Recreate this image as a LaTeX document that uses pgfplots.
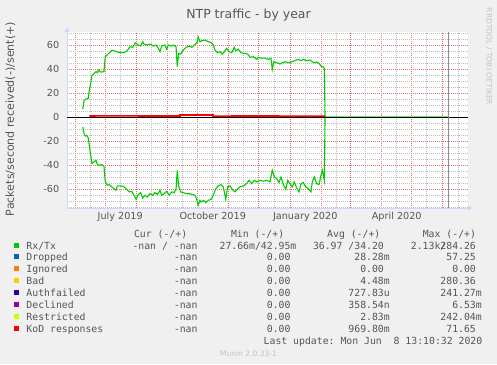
\documentclass[border=0pt]{standalone}
\usepackage{pgfplots}
\pgfplotsset{compat=1.18}
\usetikzlibrary{arrows.meta}
\usepackage{fontspec}
\setmainfont{DejaVu Sans}
\newfontfamily\monofont{DejaVu Sans Mono}
\definecolor{bgc}{HTML}{F0F0F0}
\definecolor{axc}{HTML}{CFD6F8}
\definecolor{fnt}{HTML}{555555}
\definecolor{mgr}{HTML}{E87070}
\definecolor{sgr}{HTML}{BEBEBE}
\definecolor{wm}{HTML}{C4C4C4}
\definecolor{nowc}{HTML}{8C8C8C}
\definecolor{cRx}{HTML}{00CC00}
\definecolor{cDr}{HTML}{0066B3}
\definecolor{cIg}{HTML}{FF8000}
\definecolor{cBa}{HTML}{FFCC00}
\definecolor{cAu}{HTML}{330099}
\definecolor{cDe}{HTML}{990099}
\definecolor{cRe}{HTML}{CCFF00}
\definecolor{cKo}{HTML}{FF0000}
\newcommand{\lf}{\fontsize{9.85}{11}\selectfont\monofont}
\newcommand{\ph}{\hphantom{0}}
\newcommand{\lrow}[7]{%
  \fill[#2] (14,#1+1.3) rectangle (19,#1+6.3);
  \node[anchor=base west,inner sep=0,text=fnt,font=\lf] at (26.3,#1) {#3};
  \node[anchor=base east,inner sep=0,text=fnt,font=\lf] at (197.7,#1) {#4};
  \node[anchor=base east,inner sep=0,text=fnt,font=\lf] at (296.6,#1) {#5};
  \node[anchor=base east,inner sep=0,text=fnt,font=\lf] at (390,#1) {#6};
  \node[anchor=base east,inner sep=0,text=fnt,font=\lf] at (482,#1) {#7};
}
\begin{document}
\begin{tikzpicture}[x=1bp,y=1bp]
\fill[bgc] (0,0) rectangle (497,364);
\useasboundingbox (0,0) rectangle (497,364);
\begin{axis}[
  at={(67bp,156bp)}, anchor=south west, scale only axis,
  width=401bp, height=176bp,
  xmin=-7.96, xmax=390.9, ymin=-75.6, ymax=71.1,
  axis background/.style={fill=white},
  axis x line=bottom, axis y line=left,
  axis line style={draw=axc, line width=1bp},
  x axis line style={-{Triangle[length=4.5bp,width=5bp]}, shorten >=-4.5bp},
  y axis line style={-{Triangle[length=4.5bp,width=5bp]}, shorten >=-4.5bp},
  major tick length=0pt, minor tick length=0pt,
  xtick={0,30,61,92,122,153,183,214,245,274,305,335,366},
  xticklabels={},
  minor xtick={15,45,76,107,137,168,198,229,260,289,320,350,381},
  extra x ticks={45,137,229,320},
  extra x tick labels={July 2019,October 2019,January 2020,April 2020},
  extra x tick style={grid=none},
  ytick={-60,-40,-20,0,20,40,60},
  yticklabels={-60,-40,-20,0,20,40,60},
  minor ytick={-75,-70,-65,-55,-50,-45,-35,-30,-25,-15,-10,-5,5,10,15,25,30,35,45,50,55,65,70},
  grid=both,
  major grid style={draw=mgr, line width=1bp, dash pattern=on 1bp off 1bp},
  minor grid style={draw=sgr, line width=1bp, dash pattern=on 1bp off 1bp},
  ticklabel style={font=\fontsize{9.72}{11}\selectfont, text=fnt},
  yticklabel style={anchor=east, inner sep=0pt, xshift=-7.5bp},
  xticklabel style={anchor=base, inner sep=0pt, yshift=-11.5bp},
]
% Rx/Tx sent (+)
\addplot[cRx, line width=1.1bp] table {
7.7 6.7
9.0 13.8
10.9 15.2
13.2 15.8
14.2 22.7
15.6 28.3
16.9 35.0
18.9 36.6
20.9 38.0
22.2 37.2
23.6 39.4
25.6 37.7
28.8 38.0
30.1 50.5
32.1 52.0
34.1 53.8
36.8 56.0
39.8 55.2
43.1 54.2
48.0 53.8
50.7 54.7
53.0 56.7
54.7 58.8
57.4 58.3
60.0 62.2
63.0 60.2
65.3 59.4
67.3 63.0
68.6 61.0
70.6 60.2
74.6 61.0
77.9 59.4
80.6 60.2
82.9 57.5
84.5 54.7
86.2 59.4
89.5 60.2
91.2 56.7
92.8 60.2
96.2 59.4
97.8 60.2
100.5 58.8
101.7 42.2
103.1 53.3
105.1 52.7
107.7 56.0
110.4 58.3
113.7 59.4
116.1 58.3
118.4 60.2
121.0 61.7
122.6 66.7
124.3 63.0
126.0 63.8
129.3 64.4
132.6 63.0
135.3 62.2
137.6 60.2
139.2 56.0
141.9 53.8
144.2 54.7
146.5 52.7
149.2 55.5
150.9 57.5
153.2 54.7
155.9 53.8
158.4 58.3
159.8 55.5
162.4 56.7
165.1 53.8
168.4 53.3
171.8 52.7
174.1 50.0
177.3 50.5
180.7 48.3
182.3 50.0
185.7 49.2
189.0 49.4
192.3 48.3
194.9 49.2
196.2 40.0
197.6 46.3
200.6 45.5
203.9 44.4
206.2 45.5
209.6 46.3
212.2 45.5
215.5 46.3
218.8 47.2
222.1 48.3
224.8 47.2
227.1 48.3
230.4 47.2
233.7 47.8
236.0 46.3
238.0 45.5
240.4 46.1
242.7 45.0
244.7 42.8
247.0 41.7
248.0 40.8
248.7 0
371.0 0
};
% Rx/Tx received (-)
\addplot[cRx, line width=1.1bp] table {
7.7 -8.1
9.0 -13.6
10.2 -15.6
11.6 -15.0
13.2 -17.2
14.2 -23.3
15.6 -31.7
16.9 -38.6
18.9 -37.2
20.9 -35.9
22.2 -39.4
24.2 -40.0
26.6 -39.4
28.8 -40.6
30.1 -53.9
32.1 -56.7
34.1 -56.1
36.5 -58.0
38.8 -59.5
40.8 -60.8
42.1 -57.2
44.8 -57.2
48.0 -57.5
51.4 -60.0
54.0 -62.2
56.4 -61.7
58.7 -65.0
60.7 -68.3
63.0 -64.5
65.3 -62.8
67.3 -67.2
69.6 -65.0
71.9 -66.4
74.6 -63.7
77.3 -65.0
79.6 -62.8
81.9 -64.5
84.5 -60.8
86.2 -65.0
88.5 -63.7
91.2 -61.7
93.8 -65.0
96.2 -62.2
98.5 -62.8
100.5 -60.0
101.7 -44.2
103.1 -57.2
105.1 -62.2
107.7 -62.8
111.1 -63.7
114.4 -63.7
117.1 -64.5
119.4 -65.0
121.0 -68.3
122.6 -73.3
124.3 -69.2
125.3 -70.6
127.6 -69.2
130.0 -71.1
132.6 -69.2
135.3 -68.3
137.6 -65.0
139.9 -59.5
142.5 -57.2
145.2 -56.1
147.5 -58.0
149.9 -68.3
151.9 -58.0
154.2 -57.2
156.4 -60.0
159.1 -62.2
161.8 -59.5
164.1 -58.0
167.4 -57.2
170.8 -55.3
173.1 -52.5
175.7 -55.3
178.3 -52.5
180.7 -53.9
184.0 -52.5
187.3 -53.3
190.7 -52.5
193.9 -53.9
196.2 -44.2
198.2 -49.7
200.6 -51.1
202.9 -54.4
204.9 -49.7
207.2 -56.1
209.6 -60.0
211.6 -52.5
213.8 -55.3
216.1 -58.0
218.1 -53.9
220.5 -58.9
222.8 -62.2
224.8 -55.3
227.1 -54.4
229.5 -58.0
232.0 -59.5
234.7 -62.2
236.0 -53.9
238.0 -49.7
240.4 -55.3
242.7 -56.1
244.7 -48.3
246.0 -44.2
248.0 -52.5
248.7 0
371.0 0
};
% zero rule
\addplot[black, line width=0.8bp] coordinates {(-7.96,0) (390.9,0)};
% KoD responses
\addplot[cKo, line width=1.6bp] table {
14.2 1.1
40.0 1.2
70.0 1.1
104.4 1.1
104.4 1.9
137.3 1.9
137.3 1.0
180.0 1.1
220.0 1.0
248.7 1.0
};
% now line
\addplot[nowc, line width=0.9bp] coordinates {(371,-75.6) (371,71.1)};
\end{axis}
% title, labels, watermark
\node[anchor=base, inner sep=0, text=fnt, font=\fontsize{12.5}{14}\selectfont] at (248.5,345.7) {NTP traffic - by year};
\node[rotate=90, inner sep=0, text=fnt, font=\fontsize{11.1}{13}\selectfont] at (10.5,245) {Packets/second received(-)/sent(+)};
\node[rotate=-90, inner sep=0, text=wm, font=\fontsize{7.6}{9}\selectfont] at (489,307.5) {RRDTOOL / TOBI OETIKER};
\node[anchor=base, inner sep=0, text=wm, font=\fontsize{7.6}{9}\selectfont] at (248.5,7.5) {Munin 2.0.33-1};
% legend header
\node[anchor=base west, inner sep=0, text=fnt, font=\lf] at (133.8,127) {Cur (-/+)};
\node[anchor=base west, inner sep=0, text=fnt, font=\lf] at (230.8,127) {Min (-/+)};
\node[anchor=base west, inner sep=0, text=fnt, font=\lf] at (327,127) {Avg (-/+)};
\node[anchor=base west, inner sep=0, text=fnt, font=\lf] at (422.6,127) {Max (-/+)};
% legend rows
\lrow{114.8}{cRx}{Rx/Tx}{-nan / -nan}{27.66m/42.95m}{36.97 /34.20\ph}{2.13k284.26\ph}
\node[anchor=base east, inner sep=0, text=fnt, font=\lf] at (482,114.8) {/\ph\ph\ph\ph\ph\ph};
\lrow{103.5}{cDr}{Dropped}{-nan}{0.00\ph}{28.28m}{57.25\ph}
\lrow{91.5}{cIg}{Ignored}{-nan}{0.00\ph}{0.00\ph}{0.00\ph}
\lrow{79.5}{cBa}{Bad}{-nan}{0.00\ph}{4.48m}{280.36\ph}
\lrow{67.5}{cAu}{Authfailed}{-nan}{0.00\ph}{727.83u}{241.27m}
\lrow{55.5}{cDe}{Declined}{-nan}{0.00\ph}{358.54n}{6.53m}
\lrow{43.5}{cRe}{Restricted}{-nan}{0.00\ph}{2.83m}{242.04m}
\lrow{31.5}{cKo}{KoD responses}{-nan}{0.00\ph}{969.80m}{71.65\ph}
\node[anchor=base east, inner sep=0, text=fnt, font=\lf] at (482.5,19.6) {Last update:\ Mon Jun\ \ 8 13:10:32 2020};
\end{tikzpicture}
\end{document}
